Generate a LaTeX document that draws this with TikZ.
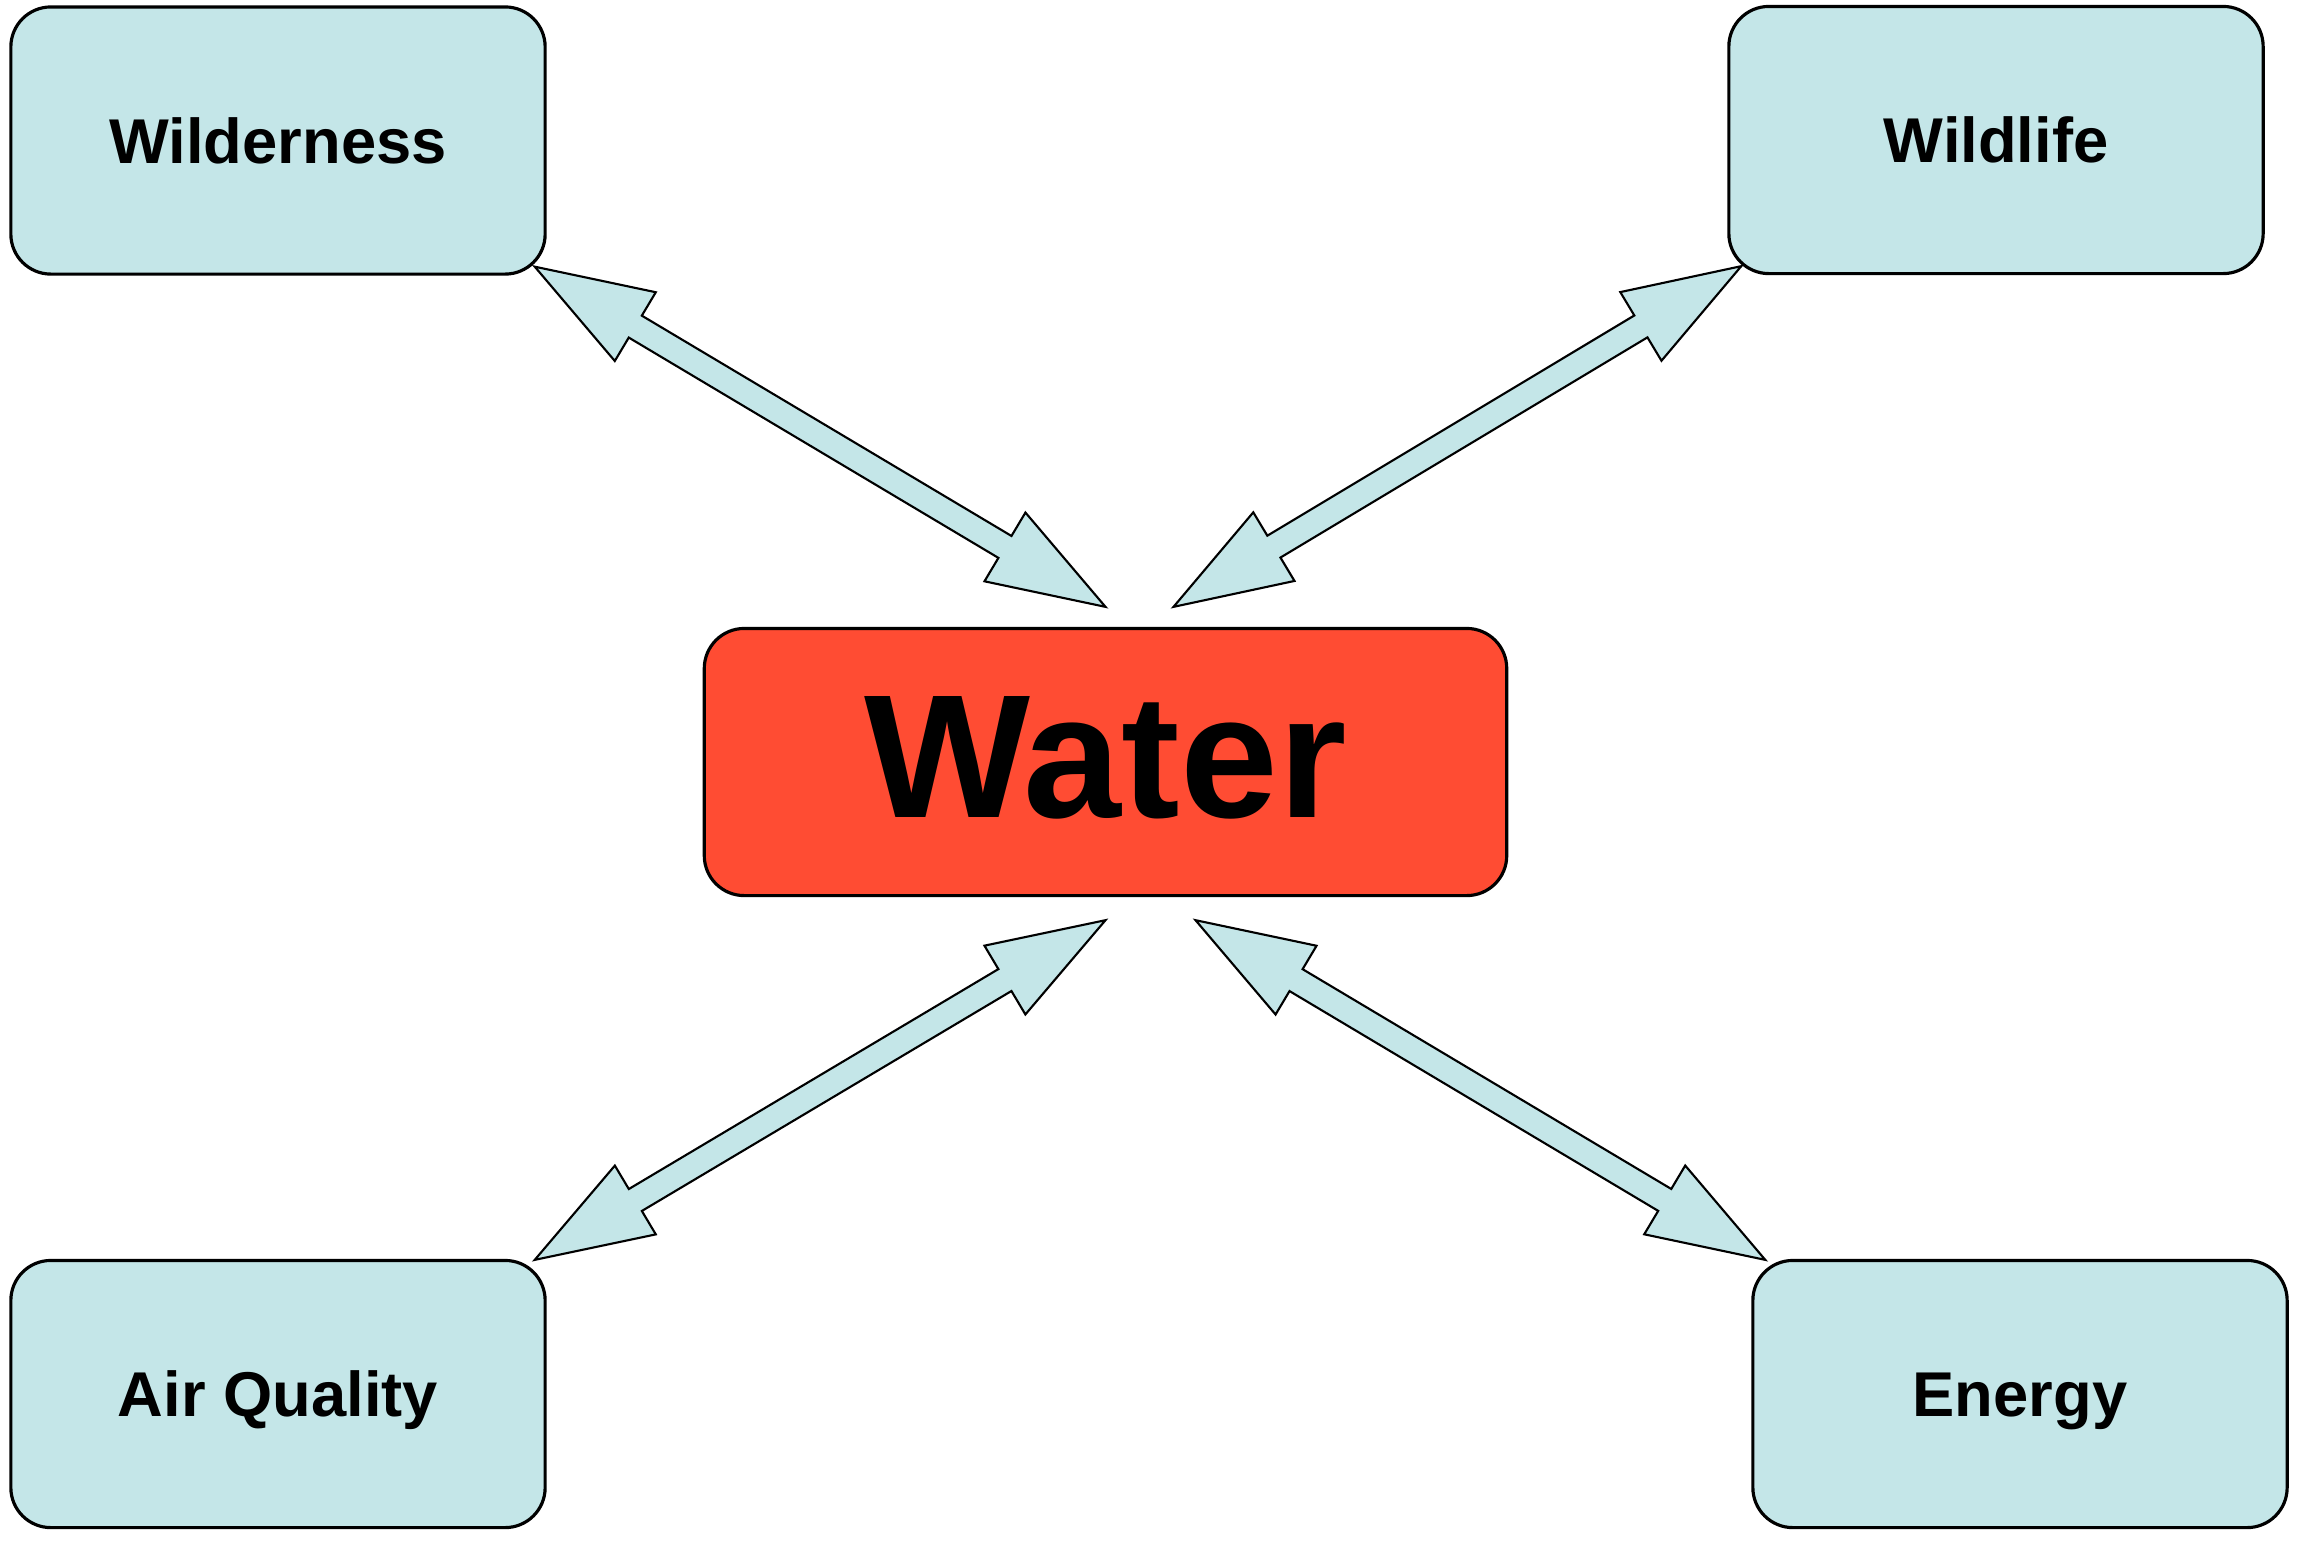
\documentclass[tikz,border=0pt]{standalone}
\usepackage{fontspec}
\setmainfont{Liberation Sans}
\usetikzlibrary{calc}
\definecolor{boxblue}{RGB}{196,230,232}
\definecolor{waterred}{RGB}{255,76,51}
\tikzset{
  topic/.style={draw=black, line width=0.9pt, fill=boxblue, rounded corners=0.4cm,
    minimum width=5.34cm, minimum height=2.67cm, inner sep=0pt,
    font=\fontsize{18}{22}\selectfont\bfseries, text height=12.9pt, text depth=0pt},
  hub/.style={draw=black, line width=0.9pt, fill=waterred, rounded corners=0.4cm,
    minimum width=8.02cm, minimum height=2.67cm, inner sep=0pt,
    font=\fontsize{50}{60}\selectfont\bfseries, text height=35.8pt, text depth=4pt},
  fatarrow/.style={draw=black, line width=0.6pt, fill=boxblue, line join=miter}
}
\newcommand{\dblarrow}[2]{%
  \draw[fatarrow] (#1)
    -- ($(#1)!1.17cm!(#2)!0.40cm!90:(#2)$)
    -- ($(#1)!1.17cm!(#2)!0.1275cm!90:(#2)$)
    -- ($(#2)!1.17cm!(#1)!0.1275cm!-90:(#1)$)
    -- ($(#2)!1.17cm!(#1)!0.40cm!-90:(#1)$)
    -- (#2)
    -- ($(#2)!1.17cm!(#1)!0.40cm!90:(#1)$)
    -- ($(#2)!1.17cm!(#1)!0.1275cm!90:(#1)$)
    -- ($(#1)!1.17cm!(#2)!0.1275cm!-90:(#2)$)
    -- ($(#1)!1.17cm!(#2)!0.40cm!-90:(#2)$)
    -- cycle;%
}
\begin{document}
\begin{tikzpicture}[x=0.01cm, y=-0.01cm]
  \useasboundingbox (0,0) rectangle (2297,1541);
  \node[topic] (wild) at (278,140.5) {Wilderness};
  \node[topic] (life) at (1996,140) {Wildlife};
  \node[topic] (air) at (278,1394) {Air Quality};
  \node[topic] (energy) at (2020,1394) {Energy};
  \node[hub] (water) at (1105.5,762) {Water};
  \coordinate (a1s) at ($(wild.south east)+(-12,-9)$);
  \coordinate (a1e) at ($(water.north)+(0,-20)$);
  \coordinate (a2s) at ($(life.south west)+(14,-9)$);
  \coordinate (a2e) at ($(water.north)+(68,-20)$);
  \coordinate (a3s) at ($(air.north east)+(-12,1)$);
  \coordinate (a3e) at ($(water.south)+(0,23)$);
  \coordinate (a4s) at ($(energy.north west)+(14,1)$);
  \coordinate (a4e) at ($(water.south)+(90,23)$);
  \dblarrow{a1s}{a1e}
  \dblarrow{a2s}{a2e}
  \dblarrow{a3s}{a3e}
  \dblarrow{a4s}{a4e}
\end{tikzpicture}
\end{document}
